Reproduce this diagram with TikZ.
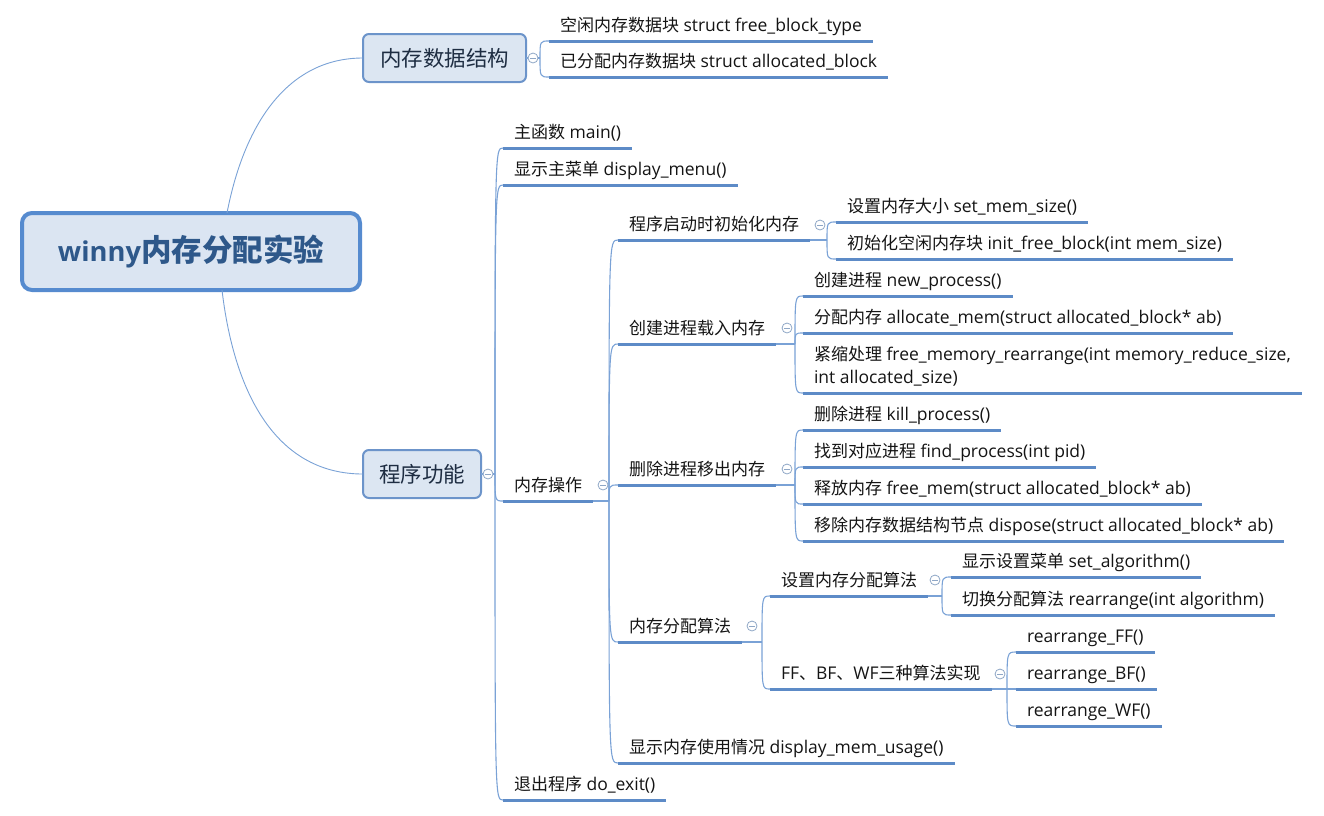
\documentclass[tikz,border=0pt]{standalone}
\usepackage{fontspec}
\setmainfont{Open Sans}[Scale=1.03]
\newfontfamily\cjk{Noto Sans CJK SC}
\usetikzlibrary{calc}
\definecolor{ulinec}{RGB}{93,139,199}
\definecolor{connc}{RGB}{122,162,214}
\definecolor{foldc}{RGB}{143,167,198}
\definecolor{boxc}{RGB}{108,148,202}
\definecolor{boxfill}{RGB}{220,230,242}
\definecolor{rootc}{RGB}{86,139,207}
\definecolor{rootfill}{RGB}{219,229,242}
\definecolor{titlec}{RGB}{46,88,138}
\definecolor{branchtext}{RGB}{30,45,66}
\definecolor{leaftext}{RGB}{20,20,20}
\begin{document}
\begin{tikzpicture}[x=1pt,y=-1pt,
  leaf/.style={anchor=south west, inner xsep=11pt, inner ysep=6pt, text depth=4pt, outer sep=0pt,
    font=\fontsize{17}{23}\selectfont, text=leaftext, align=left},
  uline/.style={draw=ulinec, line width=3pt},
  conn/.style={draw=connc, line width=1.1pt},
  rootconn/.style={draw=connc, line width=0.9pt},
  fold/.style={circle, draw=foldc, fill=white, line width=0.8pt, minimum size=10pt, inner sep=0pt,
    path picture={\draw[foldc, line width=0.8pt] ([xshift=-2.6pt]path picture bounding box.center) -- ([xshift=2.6pt]path picture bounding box.center);}},
  branch/.style={rectangle, rounded corners=6pt, draw=boxc, fill=boxfill, line width=2pt, inner sep=0pt,
    minimum height=48pt, font=\fontsize{21.5}{24}\selectfont\cjk, text=branchtext, outer sep=0pt},
  rootbox/.style={rectangle, rounded corners=10pt, draw=rootc, fill=rootfill, line width=4pt, inner sep=0pt,
    minimum width=338pt, minimum height=77pt, text=titlec, outer sep=0pt}
]
\useasboundingbox (0,0) rectangle (1324,815);

% ---- root and main branches
\node[rootbox] (root) at (191,251.5) {\bfseries\fontsize{26.5}{30}\selectfont winny{\fontsize{30.5}{32}\selectfont\cjk 内存分配实验}};
\node[branch, minimum width=163pt] (box1) at (444.5,58) {内存数据结构};
\node[branch, minimum width=118pt] (box2) at (422,474) {程序功能};

\coordinate (rt) at ($(root.north)+(36,0)$);
\coordinate (rb) at ($(root.south)+(31,0)$);
\draw[rootconn] (rt) .. controls (245,120) and (290,58) .. (box1.west);
\draw[rootconn] (rb) .. controls (235,400) and (280,474) .. (box2.west);

% ---- spine origins
\coordinate (s1) at (540,58);
\coordinate (s2) at (495,474);
\coordinate (s3) at (609,501);
\coordinate (sb1) at (827,240);
\coordinate (sb2) at (795,344);
\coordinate (sb3) at (795,485);
\coordinate (sb4) at (762,642);
\coordinate (sf1) at (942,596);
\coordinate (sf2) at (1007,689);

% ---- leaves
\node[leaf] (l1a) at (549,41) {{\cjk 空闲内存数据块} struct free\_block\_type};
\node[leaf] (l1b) at (549,77) {{\cjk 已分配内存数据块} struct allocated\_block};

\node[leaf] (a1) at (503,148) {{\cjk 主函数} main()};
\node[leaf] (a2) at (503,185) {{\cjk 显示主菜单} display\_menu()};
\node[leaf] (a3) at (503,501) {{\cjk 内存操作}};
\node[leaf] (a4) at (503,800) {{\cjk 退出程序} do\_exit()};

\node[leaf] (b1) at (618,240) {{\cjk 程序启动时初始化内存}};
\node[leaf] (b2) at (618,344) {{\cjk 创建进程载入内存}};
\node[leaf] (b3) at (618,485) {{\cjk 删除进程移出内存}};
\node[leaf] (b4) at (618,642) {{\cjk 内存分配算法}};
\node[leaf] (b5) at (618,763) {{\cjk 显示内存使用情况} display\_mem\_usage()};

\node[leaf] (c1) at (836,222) {{\cjk 设置内存大小} set\_mem\_size()};
\node[leaf] (c2) at (836,259) {{\cjk 初始化空闲内存块} init\_free\_block(int mem\_size)};

\node[leaf] (d1) at (803,296) {{\cjk 创建进程} new\_process()};
\node[leaf] (d2) at (803,333) {{\cjk 分配内存} allocate\_mem(struct allocated\_block* ab)};
\node[leaf] (d3) at (803,393) {{\cjk 紧缩处理} free\_memory\_rearrange(int memory\_reduce\_size,\\int allocated\_size)};

\node[leaf] (e1) at (803,430) {{\cjk 删除进程} kill\_process()};
\node[leaf] (e2) at (803,467) {{\cjk 找到对应进程} find\_process(int pid)};
\node[leaf] (e3) at (803,504) {{\cjk 释放内存} free\_mem(struct allocated\_block* ab)};
\node[leaf] (e4) at (803,541) {{\cjk 移除内存数据结构节点} dispose(struct allocated\_block* ab)};

\node[leaf] (f1) at (770,596) {{\cjk 设置内存分配算法}};
\node[leaf] (f2) at (770,689) {FF{\cjk 、}BF{\cjk 、}WF{\cjk 三种算法实现}};

\node[leaf] (g1) at (951,577) {{\cjk 显示设置菜单} set\_algorithm()};
\node[leaf] (g2) at (951,615) {{\cjk 切换分配算法} rearrange(int algorithm)};

\node[leaf] (h1) at (1016,652) {rearrange\_FF()};
\node[leaf] (h2) at (1016,689) {rearrange\_BF()};
\node[leaf] (h3) at (1016,726) {rearrange\_WF()};

% ---- parent to spine
\draw[conn] (box1.east) -- (s1);
\draw[conn] (box2.east) -- (s2);
\draw[conn] (a3.south east) -- (s3);
\draw[conn] (b1.south east) -- (sb1);
\draw[conn] (b2.south east) -- (sb2);
\draw[conn] (b3.south east) -- (sb3);
\draw[conn] (b4.south east) -- (sb4);
\draw[conn] (f1.south east) -- (sf1);
\draw[conn] (f2.south east) -- (sf2);

% ---- spine to children
\foreach \s/\list in {s1/{l1a,l1b}, s2/{a1,a2,a3,a4}, s3/{b1,b2,b3,b4,b5},
    sb1/{c1,c2}, sb2/{d1,d2,d3}, sb3/{e1,e2,e3,e4}, sb4/{f1,f2},
    sf1/{g1,g2}, sf2/{h1,h2,h3}} {
  \foreach \c in \list {
    \draw[conn] (\s) .. controls (\s |- \c.south west) .. (\c.south west);
  }
}

% ---- underlines
\foreach \n in {l1a,l1b,a1,a2,a3,a4,b1,b2,b3,b4,b5,c1,c2,d1,d2,d3,e1,e2,e3,e4,f1,f2,g1,g2,h1,h2,h3} {
  \draw[uline] (\n.south west) -- (\n.south east);
}

% ---- fold markers
\node[fold] (k1) at ($(s1)+(-7,0)$) {};
\node[fold] (k2) at ($(s2)+(-7,0)$) {};
\node[fold] (k3) at ($(s3)+(-6,-16)$) {};
\node[fold] (kb1) at ($(sb1)+(-7,-15)$) {};
\node[fold] (kb2) at ($(sb2)+(-8,-16)$) {};
\node[fold] (kb3) at ($(sb3)+(-8,-16)$) {};
\node[fold] (kb4) at ($(sb4)+(-10,-16)$) {};
\node[fold] (kf1) at ($(sf1)+(-7,-16)$) {};
\node[fold] (kf2) at ($(sf2)+(-7,-15)$) {};
\end{tikzpicture}
\end{document}
